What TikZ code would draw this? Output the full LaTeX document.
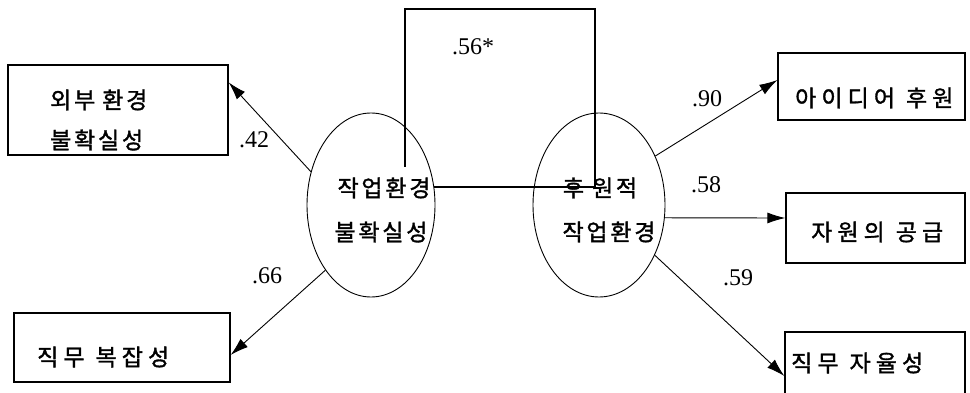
\documentclass[tikz,border=0pt]{standalone}
\usepackage{fontspec}
\setmainfont{Liberation Serif}
\newfontfamily\kr[LetterSpace=12,FakeBold=1.4]{Noto Sans CJK KR}
\newfontfamily\krw[LetterSpace=22,FakeBold=1.4]{Noto Sans CJK KR}
\usetikzlibrary{arrows.meta,shapes.geometric}
\newcommand{\gap}{\hspace{7pt}}
\newcommand{\wgap}{\hspace{11pt}}
\tikzset{
  box/.style={draw, line width=1.3pt, rectangle, inner sep=0pt},
  latent/.style={draw, line width=0.9pt, ellipse, inner sep=0pt},
  kt/.style={font=\kr\fontsize{23}{26}\selectfont, inner sep=0pt},
  kw/.style={font=\krw\fontsize{23}{26}\selectfont, inner sep=0pt},
  num/.style={font=\fontsize{24}{26}\selectfont, inner sep=0pt},
  arr/.style={line width=0.9pt, -{Latex[length=18pt,width=11pt]}},
  link/.style={line width=1.1pt}
}
\begin{document}
\begin{tikzpicture}[x=1pt,y=-1pt]
\useasboundingbox (0,0) rectangle (970,393);
\clip (0,0) rectangle (970,393);
% boxes
\node[box, minimum width=220pt, minimum height=90pt] (b1) at (118,110) {};
\node[box, minimum width=216pt, minimum height=69pt] (b2) at (122,347.5) {};
\node[box, minimum width=187pt, minimum height=67pt] (b3) at (871.5,86.5) {};
\node[box, minimum width=179pt, minimum height=70pt] (b4) at (875.5,228) {};
\node[box, minimum width=180pt, minimum height=88pt] (b5) at (875,376) {};
% ellipses
\node[latent, minimum width=128pt, minimum height=184pt] (el1) at (371,205) {};
\node[latent, minimum width=132pt, minimum height=184pt] (el2) at (599,205) {};
% texts
\node[kt, anchor=west] (t1a) at (50,100) {외부\gap 환경};
\node[kt, anchor=west] (t1b) at (50,140) {불확실성};
\node[kw, anchor=west] (t2) at (37,357) {직무\wgap 복잡성};
\node[kw, anchor=west] (t3) at (795,98) {아이디어\wgap 후원};
\node[kw, anchor=west] (t4) at (811,232) {자원의\wgap 공급};
\node[kw, anchor=west] (t5) at (791,363) {직무\wgap 자율성};
\node[kt] (e1a) at (384,188) {작업환경};
\node[kt] (e1b) at (381,232) {불확실성};
\node[kt] (e2a) at (600,188) {후\hspace{8pt}원적};
\node[kt] (e2b) at (609,232) {작업환경};
% numbers
\node[num] (n56) at (473,47) {.56*};
\node[num] (n42) at (254,140) {.42};
\node[num] (n66) at (267,276) {.66};
\node[num] (n90) at (707,99) {.90};
\node[num] (n58) at (706,185) {.58};
\node[num] (n59) at (738,278) {.59};
% correlation bracket
\coordinate (cL) at (405,167);
\coordinate (cT1) at (405,9);
\coordinate (cT2) at (595,9);
\coordinate (cR) at (595,187);
\coordinate (cH) at (434,187);
\draw[link] (cL) -- (cT1) -- (cT2) -- (cR) -- (cH);
% paths
\draw[arr] (el1.151) -- ([yshift=-18pt]b1.north east);
\draw[arr] (el1.235) -- ([yshift=-7.5pt]b2.east);
\draw[arr] (el2.41) -- ([yshift=6.5pt]b3.west);
\draw[arr] (el2.349) -- ([yshift=10pt]b4.west);
\draw[arr] (el2.318) -- (b5.west);
\end{tikzpicture}
\end{document}
